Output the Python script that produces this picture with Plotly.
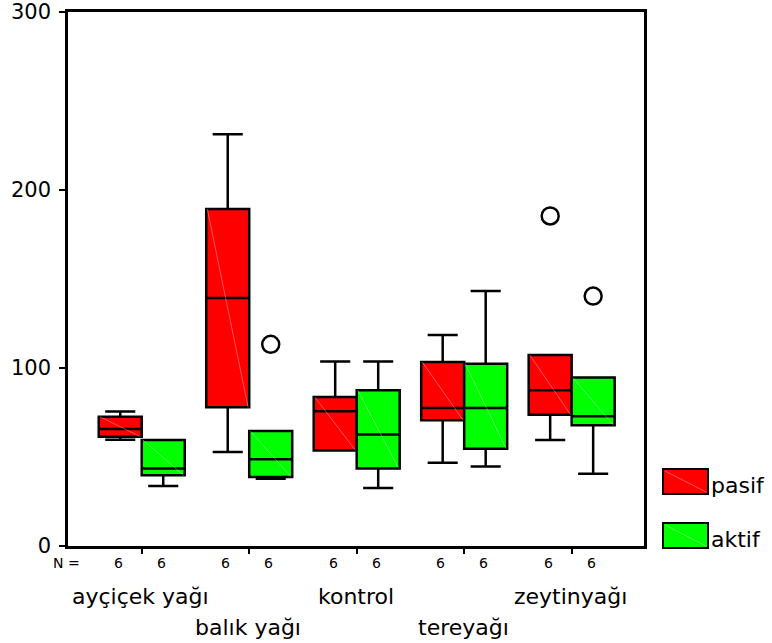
import plotly.graph_objects as go

categories = ["ayçiçek yağı", "balık yağı", "kontrol", "tereyağı", "zeytinyağı"]
groups = ["pasif", "aktif"]
counts_pasif = [6, 6, 6, 6, 6]
counts_aktif = [6, 6, 6, 6, 6]

# pasif (red) box statistics
pasif_low = [59.7, 52.8, 53.6, 46.8, 59.6]
pasif_q1 = [61.4, 77.9, 53.6, 70.6, 73.8]
pasif_med = [65.7, 139.3, 75.7, 77.5, 87.5]
pasif_q3 = [72.6, 189.3, 83.7, 103.4, 107.3]
pasif_high = [75.6, 231.3, 103.6, 118.5, 107.3]
pasif_outliers = [None, None, None, None, 185.4]

# aktif (green) box statistics
aktif_low = [33.7, 37.8, 32.6, 44.6, 40.6]
aktif_q1 = [39.7, 38.8, 43.6, 54.7, 67.8]
aktif_med = [43.6, 48.7, 62.7, 77.5, 72.9]
aktif_q3 = [59.6, 64.6, 87.5, 102.4, 94.6]
aktif_high = [59.6, 64.6, 103.6, 143.3, 94.6]
aktif_outliers = [None, 113.3, None, None, 140.4]

y_ticks = [0, 100, 200, 300]

FONT = "DejaVu Sans"
idx = list(range(len(categories)))
off = 0.2
boxw = 0.4

fig = go.Figure()
shapes = []
specs = [
    ("pasif", -off, "#FF0000", pasif_low, pasif_q1, pasif_med, pasif_q3, pasif_high, pasif_outliers),
    ("aktif", off, "#00FF00", aktif_low, aktif_q1, aktif_med, aktif_q3, aktif_high, aktif_outliers),
]
for name, o, col, lo, q1, med, q3, hi, outl in specs:
    xs = [i + o for i in idx]
    fig.add_trace(go.Box(
        x=xs, q1=q1, median=med, q3=q3, lowerfence=lo, upperfence=hi,
        width=boxw, fillcolor=col, line=dict(color="black", width=2.5),
        whiskerwidth=0.7, name=name, showlegend=False, boxpoints=False,
    ))
    # faint diagonal hatch line inside each box
    for x, a, b in zip(xs, q3, q1):
        shapes.append(dict(type="line", xref="x", yref="y", layer="above",
                           x0=x - boxw / 2 + 0.01, x1=x + boxw / 2 - 0.01, y0=a, y1=b,
                           line=dict(color="rgba(255,255,255,0.35)", width=1)))
    ox = [i + o for i, v in zip(idx, outl) if v is not None]
    oy = [v for v in outl if v is not None]
    fig.add_trace(go.Scatter(
        x=ox, y=oy, mode="markers", showlegend=False,
        marker=dict(symbol="circle-open", size=17, color="black", line=dict(width=2.5)),
    ))

annotations = []
# N = counts
annotations.append(dict(x=0, xref="paper", y=0, yref="paper", yshift=-17, xshift=-2,
                        xanchor="center", yanchor="middle",
                        text="N =", showarrow=False, font=dict(family=FONT, size=14, color="black")))
for i in idx:
    for o, cnt in ((-off, counts_pasif[i]), (off, counts_aktif[i])):
        annotations.append(dict(x=i + o - 0.02, xref="x", y=0, yref="paper", yshift=-17,
                                xanchor="center", yanchor="middle",
                                text=str(cnt), showarrow=False,
                                font=dict(family=FONT, size=14, color="black")))
    annotations.append(dict(x=i - 0.01, xref="x", y=0, yref="paper",
                            yshift=-50 if i % 2 == 0 else -81,
                            xanchor="center", yanchor="middle",
                            text=categories[i], showarrow=False,
                            font=dict(family=FONT, size=22, color="black")))

# manual legend
legend_cols = {"pasif": "#FF0000", "aktif": "#00FF00"}
W, H, L, T = 576.0, 534.0, 68.0, 12.0
def px(x):
    return (x - L) / W
def py(y):
    return (T + H - y) / H
for name, top in (("pasif", 469), ("aktif", 523)):
    shapes.append(dict(type="rect", xref="paper", yref="paper",
                       x0=px(663), x1=px(708), y0=py(top + 25), y1=py(top),
                       fillcolor=legend_cols[name], line=dict(color="black", width=2)))
    shapes.append(dict(type="line", xref="paper", yref="paper",
                       x0=px(665), x1=px(706), y0=py(top + 2), y1=py(top + 23),
                       line=dict(color="rgba(255,255,255,0.35)", width=1)))
    annotations.append(dict(x=px(709), xref="paper", y=py(top + 16), yref="paper",
                            xanchor="left", yanchor="middle", text=name, showarrow=False,
                            font=dict(family=FONT, size=22, color="black")))

fig.update_layout(
    width=772, height=643,
    margin=dict(l=68, r=128, t=12, b=97, autoexpand=False),
    paper_bgcolor="white", plot_bgcolor="white",
    showlegend=False,
    annotations=annotations, shapes=shapes,
    xaxis=dict(range=[-0.686, 4.673], tickvals=idx, ticktext=[""] * len(idx),
               ticks="outside", ticklen=5, tickwidth=2, tickcolor="black",
               showline=True, linecolor="black", linewidth=2.5, mirror=True,
               showgrid=False, zeroline=False, automargin=False),
    yaxis=dict(range=[0, 300], tickvals=y_ticks, ticks="outside", ticklen=6, tickwidth=2,
               tickcolor="black", showline=True, linecolor="black", linewidth=2.5, mirror=True,
               showgrid=False, zeroline=False, automargin=False, ticklabelstandoff=4,
               tickfont=dict(family=FONT, size=21, color="black")),
)

fig.write_html("out.html", config={"displayModeBar": False},
               post_script="document.body.style.margin='0';document.body.style.overflow='hidden';")
